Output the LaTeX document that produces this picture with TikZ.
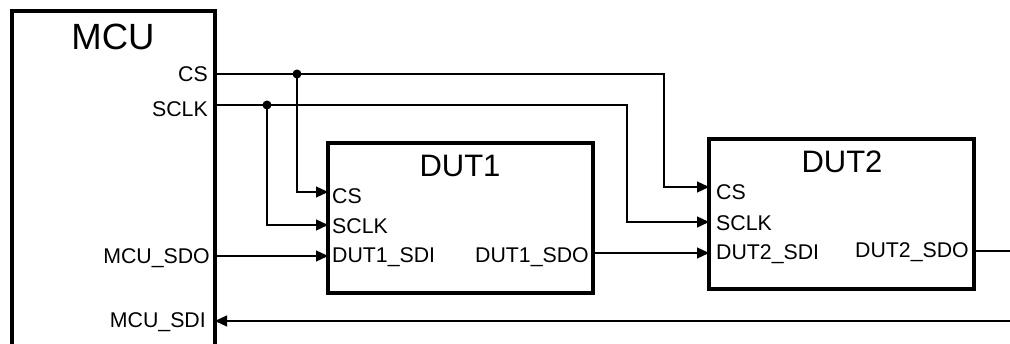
\documentclass[tikz,border=0pt]{standalone}
\usepackage{fontspec}
\setmainfont{Liberation Sans}
\usetikzlibrary{arrows.meta}
\begin{document}
\begin{tikzpicture}[x=1pt,y=-1pt,
  box/.style={draw, line width=3.5pt, minimum width=265pt, minimum height=150pt, inner sep=0pt, outer sep=0pt, anchor=north west},
  wire/.style={line width=1.3pt},
  arr/.style={wire, -{Triangle[length=12pt,width=11pt]}},
  pin/.style={inner sep=0pt, font=\fontsize{21.3}{24}\selectfont},
  ttl/.style={inner sep=0pt, anchor=base},
  jdot/.style={circle, fill, inner sep=0pt, minimum size=9pt}]
\useasboundingbox (0,0) rectangle (1010,344);
% blocks
\node[box, minimum width=203pt, minimum height=420pt] (mcu) at (12,11) {};
\node[box] (dut1) at (328,143) {};
\node[box] (dut2) at (709,139) {};
% titles
\node[ttl, font=\fontsize{36.5}{40}\selectfont] (tmcu) at (113,50) {MCU};
\node[ttl, font=\fontsize{31}{34}\selectfont] (tdut1) at (460,177) {DUT1};
\node[ttl, font=\fontsize{31}{34}\selectfont] (tdut2) at (842,173) {DUT2};
% MCU pins
\node[pin, anchor=base east] (mcs) at (208,82) {CS};
\node[pin, anchor=base east] (msclk) at (208,117) {SCLK};
\node[pin, anchor=base east] (msdo) at (210,264) {MCU\_SDO};
\node[pin, anchor=base east] (msdi) at (206,328) {MCU\_SDI};
% DUT1 pins
\node[pin, anchor=base west] (d1cs) at (332,204) {CS};
\node[pin, anchor=base west] (d1sclk) at (332,234) {SCLK};
\node[pin, anchor=base west] (d1sdi) at (332,263) {DUT1\_SDI};
\node[pin, anchor=base east] (d1sdo) at (589,263) {DUT1\_SDO};
% DUT2 pins
\node[pin, anchor=base west] (d2cs) at (716,200) {CS};
\node[pin, anchor=base west] (d2sclk) at (716,230.5) {SCLK};
\node[pin, anchor=base west] (d2sdi) at (716,260) {DUT2\_SDI};
\node[pin, anchor=base east] (d2sdo) at (969,258) {DUT2\_SDO};
% junctions and free ends
\node[jdot] (jcs) at (297,74) {};
\node[jdot] (jsclk) at (267,105) {};
\coordinate (sdoout) at (1010,251);
\coordinate (sdiin) at (1010,321);
% wires
\draw[arr] (mcu.east |- 0,74) -- (664,74) |- (dut2.west |- 0,187);
\draw[arr] (mcu.east |- 0,105) -- (627,105) |- (dut2.west |- 0,222);
\draw[arr] (jcs.center) |- (dut1.west |- 0,192);
\draw[arr] (jsclk.center) |- (dut1.west |- 0,225);
\draw[arr] (mcu.east |- 0,256) -- (dut1.west |- 0,256);
\draw[arr] (dut1.east |- 0,253) -- (dut2.west |- 0,253);
\draw[wire] (dut2.east |- 0,251) -- (sdoout);
\draw[arr] (sdiin) -- (mcu.east |- 0,321);
\end{tikzpicture}
\end{document}
